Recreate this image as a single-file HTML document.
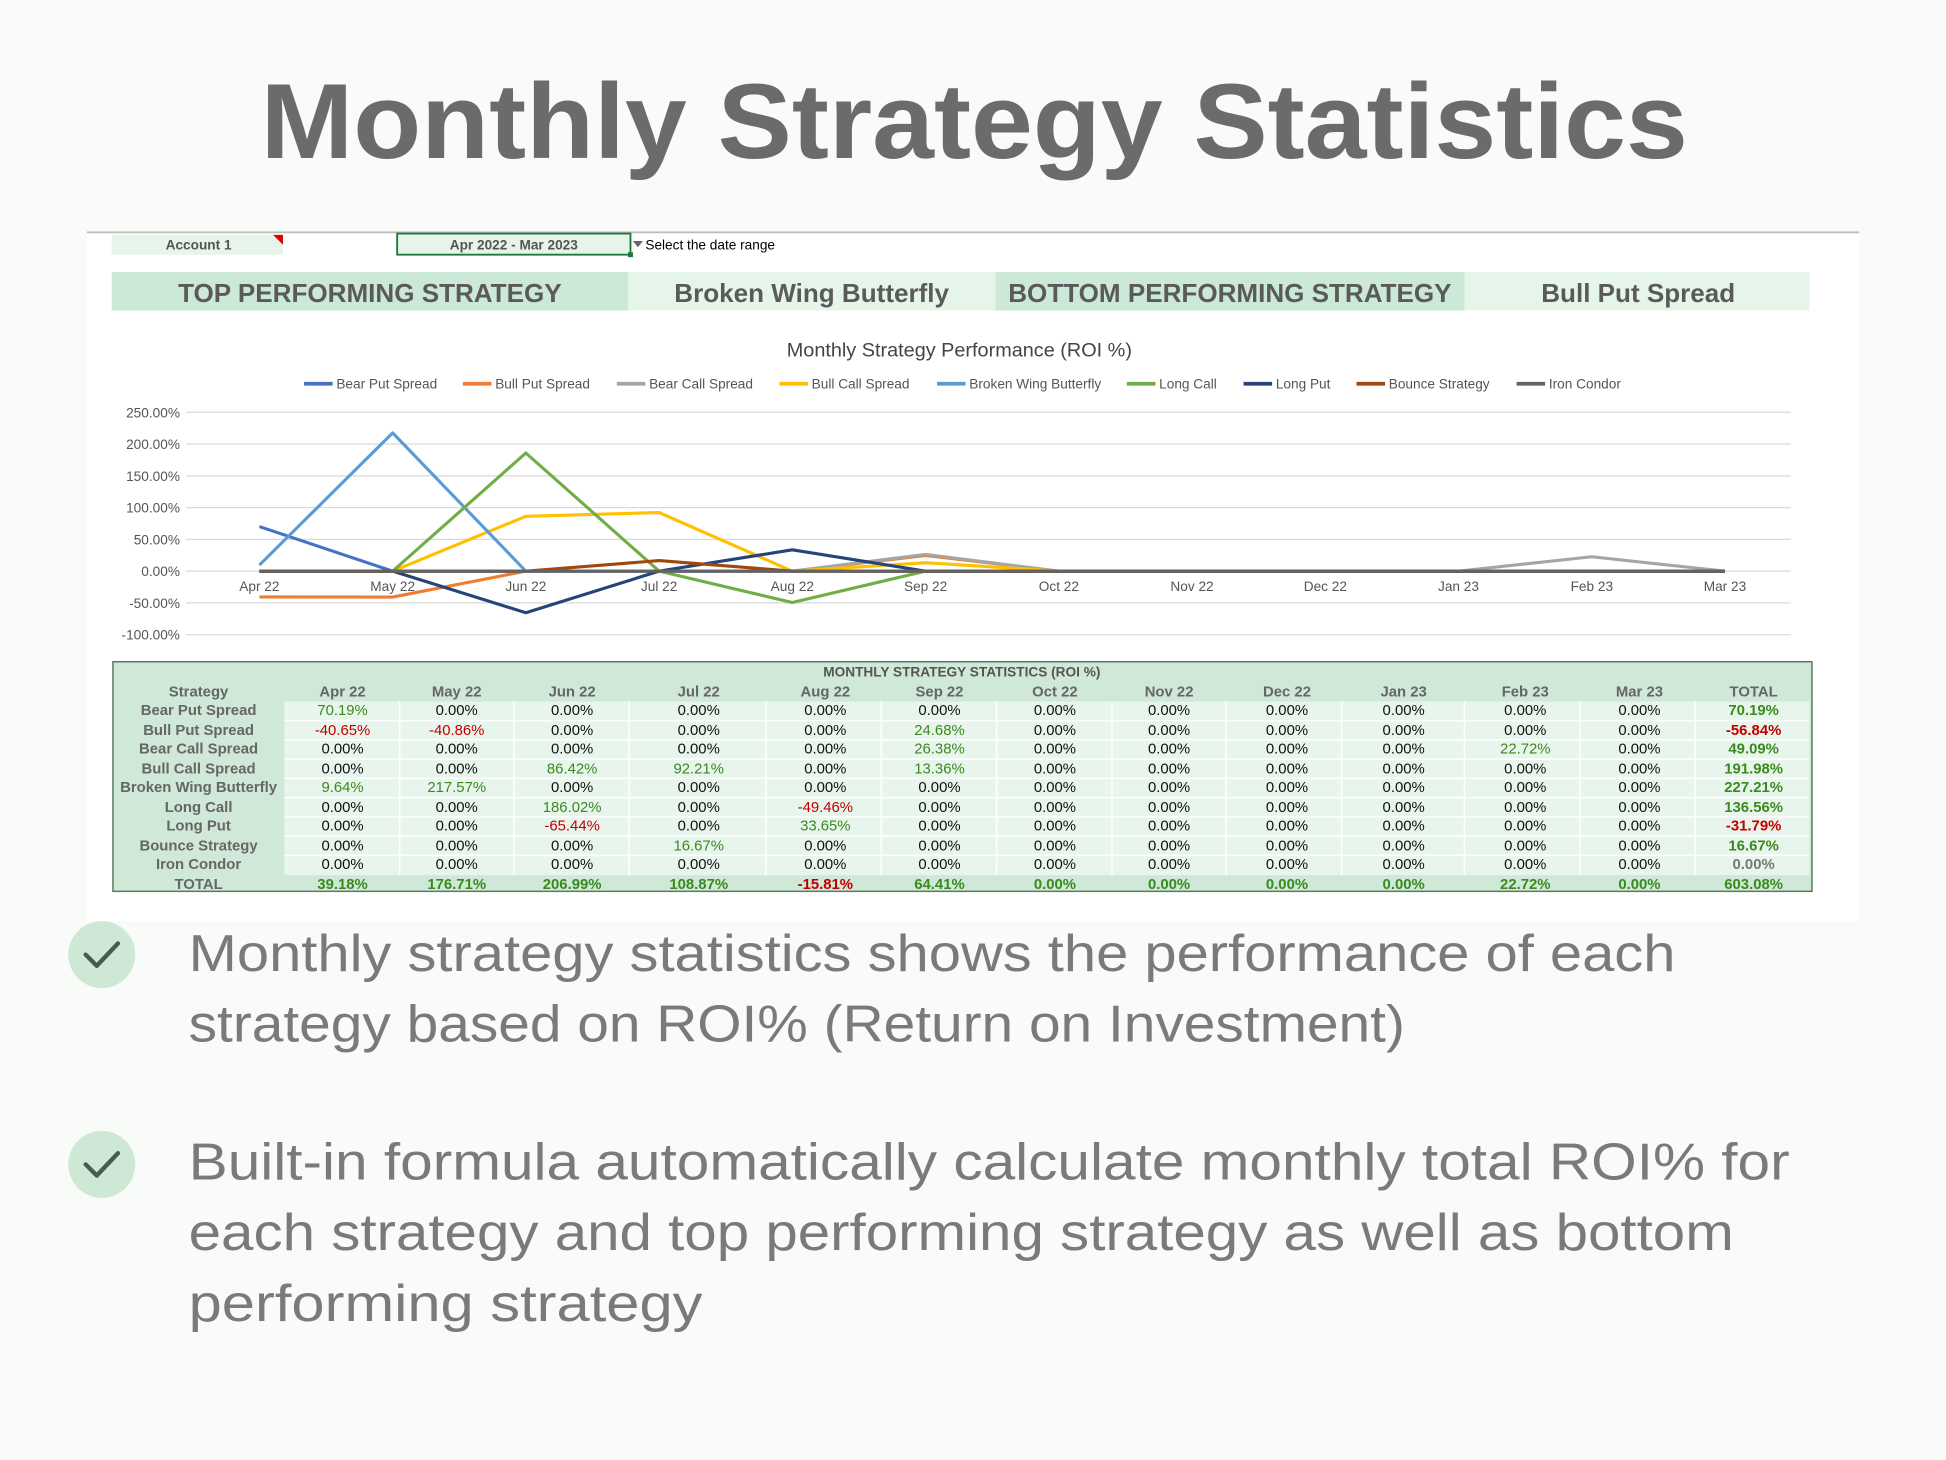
<!DOCTYPE html>
<html><head><meta charset="utf-8"><style>html,body{margin:0;padding:0;background:#f9fbf8}svg{display:block}</style></head>
<body>
<svg width="1946" height="1460" viewBox="0 0 1568 1176" xmlns="http://www.w3.org/2000/svg" font-family="Liberation Sans, Arial, sans-serif">
<rect width="1568" height="1176" fill="#f9fbf8"/>
<text x="210" y="127" font-size="86" font-weight="bold" fill="#6b6b6b" textLength="1150" lengthAdjust="spacingAndGlyphs">Monthly Strategy Statistics</text>
<rect x="70" y="186" width="1428" height="556" fill="#ffffff"/>
<line x1="70" y1="187" x2="1498" y2="187" stroke="#bdbdbd" stroke-width="1.5"/>
<rect x="90" y="189" width="138" height="16" fill="#e6f4ea"/>
<polygon points="220,189 228,189 228,197" fill="#e00000"/>
<text x="160" y="201" font-size="11" font-weight="bold" fill="#555" text-anchor="middle">Account 1</text>
<rect x="320" y="188" width="188" height="17" fill="#e6f4ea" stroke="#1e7a3c" stroke-width="1.5"/>
<rect x="506" y="203" width="4" height="4" fill="#1e7a3c"/>
<text x="414" y="201" font-size="11" font-weight="bold" fill="#555" text-anchor="middle">Apr 2022 - Mar 2023</text>
<polygon points="510,194 518,194 514,199" fill="#666"/>
<text x="520" y="201" font-size="11" fill="#000">Select the date range</text>
<rect x="90" y="219" width="416" height="31" fill="#cce8d6"/>
<rect x="506" y="219" width="296" height="31" fill="#e6f5ea"/>
<rect x="802" y="219" width="378" height="31" fill="#cce8d6"/>
<rect x="1180" y="219" width="278" height="31" fill="#e6f5ea"/>
<g font-size="21" font-weight="bold" fill="#5a5a5a" text-anchor="middle">
<text x="298" y="243">TOP PERFORMING STRATEGY</text>
<text x="654" y="243">Broken Wing Butterfly</text>
<text x="991" y="243">BOTTOM PERFORMING STRATEGY</text>
<text x="1320" y="243">Bull Put Spread</text>
</g>
<text x="773" y="287" font-size="16" fill="#444" text-anchor="middle">Monthly Strategy Performance (ROI %)</text>
<g font-size="11" fill="#555" stroke-width="3">
<line x1="245" y1="309" x2="268" y2="309" stroke="#4472c4"/><text x="271" y="313">Bear Put Spread</text>
<line x1="373" y1="309" x2="396" y2="309" stroke="#ed7d31"/><text x="399" y="313">Bull Put Spread</text>
<line x1="497" y1="309" x2="520" y2="309" stroke="#a5a5a5"/><text x="523" y="313">Bear Call Spread</text>
<line x1="628" y1="309" x2="651" y2="309" stroke="#ffc000"/><text x="654" y="313">Bull Call Spread</text>
<line x1="755" y1="309" x2="778" y2="309" stroke="#5b9bd5"/><text x="781" y="313">Broken Wing Butterfly</text>
<line x1="908" y1="309" x2="931" y2="309" stroke="#70ad47"/><text x="934" y="313">Long Call</text>
<line x1="1002" y1="309" x2="1025" y2="309" stroke="#264478"/><text x="1028" y="313">Long Put</text>
<line x1="1093" y1="309" x2="1116" y2="309" stroke="#9e480e"/><text x="1119" y="313">Bounce Strategy</text>
<line x1="1222" y1="309" x2="1245" y2="309" stroke="#636363"/><text x="1248" y="313">Iron Condor</text>
</g>
<g stroke="#d9d9d9" stroke-width="1">
<line x1="150" y1="332" x2="1443" y2="332"/><line x1="150" y1="357.6" x2="1443" y2="357.6"/><line x1="150" y1="383.2" x2="1443" y2="383.2"/><line x1="150" y1="408.8" x2="1443" y2="408.8"/><line x1="150" y1="434.4" x2="1443" y2="434.4"/><line x1="150" y1="460" x2="1443" y2="460"/><line x1="150" y1="485.6" x2="1443" y2="485.6"/><line x1="150" y1="511.2" x2="1443" y2="511.2"/>
</g>
<g font-size="11" fill="#555" text-anchor="end">
<text x="145" y="336">250.00%</text><text x="145" y="361.6">200.00%</text><text x="145" y="387.2">150.00%</text><text x="145" y="412.8">100.00%</text><text x="145" y="438.4">50.00%</text><text x="145" y="464">0.00%</text><text x="145" y="489.6">-50.00%</text><text x="145" y="515.2">-100.00%</text>
</g>
<g font-size="11" fill="#555" text-anchor="middle">
<text x="209" y="476">Apr 22</text><text x="316.4" y="476">May 22</text><text x="423.7" y="476">Jun 22</text><text x="531.1" y="476">Jul 22</text><text x="638.4" y="476">Aug 22</text><text x="745.8" y="476">Sep 22</text><text x="853.2" y="476">Oct 22</text><text x="960.5" y="476">Nov 22</text><text x="1067.9" y="476">Dec 22</text><text x="1175.2" y="476">Jan 23</text><text x="1282.6" y="476">Feb 23</text><text x="1389.9" y="476">Mar 23</text>
</g>
<g fill="none" stroke-width="2.5" stroke-linejoin="round">
<polyline stroke="#4472c4" points="209,424.1 316.4,460 423.7,460 531.1,460 638.4,460 745.8,460 853.2,460 960.5,460 1067.9,460 1175.2,460 1282.6,460 1389.9,460"/>
<polyline stroke="#ed7d31" points="209,480.8 316.4,480.9 423.7,460 531.1,460 638.4,460 745.8,447.4 853.2,460 960.5,460 1067.9,460 1175.2,460 1282.6,460 1389.9,460"/>
<polyline stroke="#a5a5a5" points="209,460 316.4,460 423.7,460 531.1,460 638.4,460 745.8,446.5 853.2,460 960.5,460 1067.9,460 1175.2,460 1282.6,448.4 1389.9,460"/>
<polyline stroke="#ffc000" points="209,460 316.4,460 423.7,415.8 531.1,412.8 638.4,460 745.8,453.2 853.2,460 960.5,460 1067.9,460 1175.2,460 1282.6,460 1389.9,460"/>
<polyline stroke="#5b9bd5" points="209,455.1 316.4,348.6 423.7,460 531.1,460 638.4,460 745.8,460 853.2,460 960.5,460 1067.9,460 1175.2,460 1282.6,460 1389.9,460"/>
<polyline stroke="#70ad47" points="209,460 316.4,460 423.7,364.8 531.1,460 638.4,485.3 745.8,460 853.2,460 960.5,460 1067.9,460 1175.2,460 1282.6,460 1389.9,460"/>
<polyline stroke="#264478" points="209,460 316.4,460 423.7,493.5 531.1,460 638.4,442.8 745.8,460 853.2,460 960.5,460 1067.9,460 1175.2,460 1282.6,460 1389.9,460"/>
<polyline stroke="#9e480e" points="209,460 316.4,460 423.7,460 531.1,451.5 638.4,460 745.8,460 853.2,460 960.5,460 1067.9,460 1175.2,460 1282.6,460 1389.9,460"/>
<line x1="209" y1="460" x2="1389.9" y2="460" stroke="#636363"/>
</g>
<!-- table -->
<rect x="91" y="533" width="1369" height="185" fill="#cfe8d8" stroke="#5a7a60" stroke-width="1.2"/>
<rect x="229" y="565" width="1229" height="140" fill="#e8f5ec"/>
<g stroke="#ffffff" stroke-width="1.2">
<line x1="322" y1="565" x2="322" y2="705"/><line x1="414" y1="565" x2="414" y2="705"/><line x1="507" y1="565" x2="507" y2="705"/><line x1="617" y1="565" x2="617" y2="705"/><line x1="710" y1="565" x2="710" y2="705"/><line x1="803" y1="565" x2="803" y2="705"/><line x1="896" y1="565" x2="896" y2="705"/><line x1="988" y1="565" x2="988" y2="705"/><line x1="1081" y1="565" x2="1081" y2="705"/><line x1="1180" y1="565" x2="1180" y2="705"/><line x1="1273" y1="565" x2="1273" y2="705"/><line x1="1366" y1="565" x2="1366" y2="705"/>
<line x1="229" y1="580.5" x2="1458" y2="580.5"/><line x1="229" y1="596" x2="1458" y2="596"/><line x1="229" y1="611.5" x2="1458" y2="611.5"/><line x1="229" y1="627" x2="1458" y2="627"/><line x1="229" y1="642.5" x2="1458" y2="642.5"/><line x1="229" y1="658" x2="1458" y2="658"/><line x1="229" y1="673.5" x2="1458" y2="673.5"/><line x1="229" y1="689" x2="1458" y2="689"/>
</g>
<text x="775" y="545" font-size="11" font-weight="bold" fill="#555" text-anchor="middle">MONTHLY STRATEGY STATISTICS (ROI %)</text>
<g font-size="12" font-weight="bold" fill="#666" text-anchor="middle">
<text x="160" y="561">Strategy</text><text x="276" y="561">Apr 22</text><text x="368" y="561">May 22</text><text x="461" y="561">Jun 22</text><text x="563" y="561">Jul 22</text><text x="665" y="561">Aug 22</text><text x="757" y="561">Sep 22</text><text x="850" y="561">Oct 22</text><text x="942" y="561">Nov 22</text><text x="1037" y="561">Dec 22</text><text x="1131" y="561">Jan 23</text><text x="1229" y="561">Feb 23</text><text x="1321" y="561">Mar 23</text><text x="1413" y="561">TOTAL</text>
<text x="160" y="576">Bear Put Spread</text><text x="160" y="592">Bull Put Spread</text><text x="160" y="607">Bear Call Spread</text><text x="160" y="623">Bull Call Spread</text><text x="160" y="638">Broken Wing Butterfly</text><text x="160" y="654">Long Call</text><text x="160" y="669">Long Put</text><text x="160" y="685">Bounce Strategy</text><text x="160" y="700">Iron Condor</text><text x="160" y="716">TOTAL</text>
</g>
<g font-size="12" fill="#111" text-anchor="middle">
<!-- row1 -->
<text x="276" y="576" fill="#3a8a1e">70.19%</text><text x="368" y="576">0.00%</text><text x="461" y="576">0.00%</text><text x="563" y="576">0.00%</text><text x="665" y="576">0.00%</text><text x="757" y="576">0.00%</text><text x="850" y="576">0.00%</text><text x="942" y="576">0.00%</text><text x="1037" y="576">0.00%</text><text x="1131" y="576">0.00%</text><text x="1229" y="576">0.00%</text><text x="1321" y="576">0.00%</text>
<!-- row2 -->
<text x="276" y="592" fill="#c00000">-40.65%</text><text x="368" y="592" fill="#c00000">-40.86%</text><text x="461" y="592">0.00%</text><text x="563" y="592">0.00%</text><text x="665" y="592">0.00%</text><text x="757" y="592" fill="#3a8a1e">24.68%</text><text x="850" y="592">0.00%</text><text x="942" y="592">0.00%</text><text x="1037" y="592">0.00%</text><text x="1131" y="592">0.00%</text><text x="1229" y="592">0.00%</text><text x="1321" y="592">0.00%</text>
<!-- row3 -->
<text x="276" y="607">0.00%</text><text x="368" y="607">0.00%</text><text x="461" y="607">0.00%</text><text x="563" y="607">0.00%</text><text x="665" y="607">0.00%</text><text x="757" y="607" fill="#3a8a1e">26.38%</text><text x="850" y="607">0.00%</text><text x="942" y="607">0.00%</text><text x="1037" y="607">0.00%</text><text x="1131" y="607">0.00%</text><text x="1229" y="607" fill="#3a8a1e">22.72%</text><text x="1321" y="607">0.00%</text>
<!-- row4 -->
<text x="276" y="623">0.00%</text><text x="368" y="623">0.00%</text><text x="461" y="623" fill="#3a8a1e">86.42%</text><text x="563" y="623" fill="#3a8a1e">92.21%</text><text x="665" y="623">0.00%</text><text x="757" y="623" fill="#3a8a1e">13.36%</text><text x="850" y="623">0.00%</text><text x="942" y="623">0.00%</text><text x="1037" y="623">0.00%</text><text x="1131" y="623">0.00%</text><text x="1229" y="623">0.00%</text><text x="1321" y="623">0.00%</text>
<!-- row5 -->
<text x="276" y="638" fill="#3a8a1e">9.64%</text><text x="368" y="638" fill="#3a8a1e">217.57%</text><text x="461" y="638">0.00%</text><text x="563" y="638">0.00%</text><text x="665" y="638">0.00%</text><text x="757" y="638">0.00%</text><text x="850" y="638">0.00%</text><text x="942" y="638">0.00%</text><text x="1037" y="638">0.00%</text><text x="1131" y="638">0.00%</text><text x="1229" y="638">0.00%</text><text x="1321" y="638">0.00%</text>
<!-- row6 -->
<text x="276" y="654">0.00%</text><text x="368" y="654">0.00%</text><text x="461" y="654" fill="#3a8a1e">186.02%</text><text x="563" y="654">0.00%</text><text x="665" y="654" fill="#c00000">-49.46%</text><text x="757" y="654">0.00%</text><text x="850" y="654">0.00%</text><text x="942" y="654">0.00%</text><text x="1037" y="654">0.00%</text><text x="1131" y="654">0.00%</text><text x="1229" y="654">0.00%</text><text x="1321" y="654">0.00%</text>
<!-- row7 -->
<text x="276" y="669">0.00%</text><text x="368" y="669">0.00%</text><text x="461" y="669" fill="#c00000">-65.44%</text><text x="563" y="669">0.00%</text><text x="665" y="669" fill="#3a8a1e">33.65%</text><text x="757" y="669">0.00%</text><text x="850" y="669">0.00%</text><text x="942" y="669">0.00%</text><text x="1037" y="669">0.00%</text><text x="1131" y="669">0.00%</text><text x="1229" y="669">0.00%</text><text x="1321" y="669">0.00%</text>
<!-- row8 -->
<text x="276" y="685">0.00%</text><text x="368" y="685">0.00%</text><text x="461" y="685">0.00%</text><text x="563" y="685" fill="#3a8a1e">16.67%</text><text x="665" y="685">0.00%</text><text x="757" y="685">0.00%</text><text x="850" y="685">0.00%</text><text x="942" y="685">0.00%</text><text x="1037" y="685">0.00%</text><text x="1131" y="685">0.00%</text><text x="1229" y="685">0.00%</text><text x="1321" y="685">0.00%</text>
<!-- row9 -->
<text x="276" y="700">0.00%</text><text x="368" y="700">0.00%</text><text x="461" y="700">0.00%</text><text x="563" y="700">0.00%</text><text x="665" y="700">0.00%</text><text x="757" y="700">0.00%</text><text x="850" y="700">0.00%</text><text x="942" y="700">0.00%</text><text x="1037" y="700">0.00%</text><text x="1131" y="700">0.00%</text><text x="1229" y="700">0.00%</text><text x="1321" y="700">0.00%</text>
</g>
<g font-size="12" font-weight="bold" fill="#3a8a1e" text-anchor="middle">
<text x="1413" y="576">70.19%</text><text x="1413" y="592" fill="#c00000">-56.84%</text><text x="1413" y="607">49.09%</text><text x="1413" y="623">191.98%</text><text x="1413" y="638">227.21%</text><text x="1413" y="654">136.56%</text><text x="1413" y="669" fill="#c00000">-31.79%</text><text x="1413" y="685">16.67%</text><text x="1413" y="700" fill="#777">0.00%</text>
<text x="276" y="716">39.18%</text><text x="368" y="716">176.71%</text><text x="461" y="716">206.99%</text><text x="563" y="716">108.87%</text><text x="665" y="716" fill="#c00000">-15.81%</text><text x="757" y="716">64.41%</text><text x="850" y="716">0.00%</text><text x="942" y="716">0.00%</text><text x="1037" y="716">0.00%</text><text x="1131" y="716">0.00%</text><text x="1229" y="716">22.72%</text><text x="1321" y="716">0.00%</text><text x="1413" y="716">603.08%</text>
</g>
<!-- bullets -->
<circle cx="82" cy="769" r="27" fill="#cfe8d6"/>
<polyline points="69,769 78,778 95,760" fill="none" stroke="#4a5a50" stroke-width="3.5" stroke-linecap="round" stroke-linejoin="round"/>
<circle cx="82" cy="938" r="27" fill="#cfe8d6"/>
<polyline points="69,938 78,947 95,929" fill="none" stroke="#4a5a50" stroke-width="3.5" stroke-linecap="round" stroke-linejoin="round"/>
<g font-size="42" fill="#7a7a7a">
<text x="152" y="782" textLength="1198" lengthAdjust="spacingAndGlyphs">Monthly strategy statistics shows the performance of each</text>
<text x="152" y="839" textLength="980" lengthAdjust="spacingAndGlyphs">strategy based on ROI% (Return on Investment)</text>
<text x="152" y="950" textLength="1290" lengthAdjust="spacingAndGlyphs">Built-in formula automatically calculate monthly total ROI% for</text>
<text x="152" y="1007" textLength="1245" lengthAdjust="spacingAndGlyphs">each strategy and top performing strategy as well as bottom</text>
<text x="152" y="1064" textLength="414" lengthAdjust="spacingAndGlyphs">performing strategy</text>
</g>
</svg>
</body></html>
